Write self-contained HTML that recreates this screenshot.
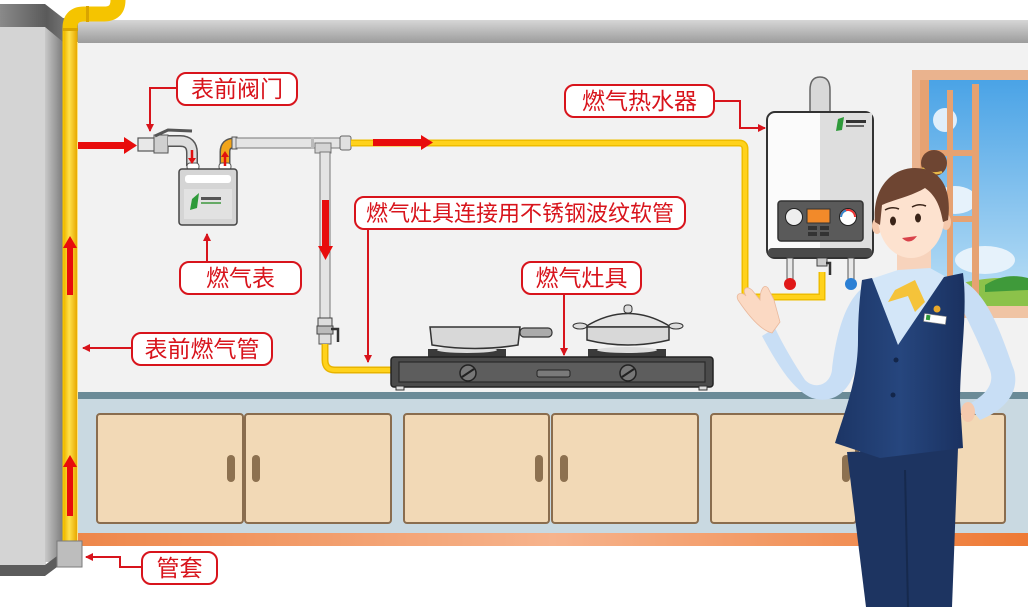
<!DOCTYPE html>
<html><head><meta charset="utf-8">
<style>
html,body{margin:0;padding:0;background:#fff;}
svg{display:block;}
text{font-family:"Liberation Sans","Noto Sans CJK SC",sans-serif;fill:#d8141c;}
</style></head>
<body>
<svg width="1028" height="607" viewBox="0 0 1028 607" xmlns="http://www.w3.org/2000/svg">
<defs>
<linearGradient id="ceil" x1="0" y1="0" x2="0" y2="1"><stop offset="0" stop-color="#d6d6d6"/><stop offset="1" stop-color="#9c9c9c"/></linearGradient>
<linearGradient id="colTop" x1="0" y1="0" x2="1" y2="0"><stop offset="0" stop-color="#8a8a8a"/><stop offset="0.6" stop-color="#5a5a5a"/><stop offset="1" stop-color="#888"/></linearGradient>
<linearGradient id="colSide" x1="0" y1="0" x2="1" y2="0"><stop offset="0" stop-color="#c8c8c8"/><stop offset="1" stop-color="#7c7c7c"/></linearGradient>
<linearGradient id="pipeY" x1="0" y1="0" x2="1" y2="0"><stop offset="0" stop-color="#f0b800"/><stop offset="0.4" stop-color="#ffe14a"/><stop offset="1" stop-color="#e8a800"/></linearGradient>
<linearGradient id="orange" x1="0" y1="0" x2="1" y2="0"><stop offset="0" stop-color="#ee874a"/><stop offset="0.5" stop-color="#f6b38c"/><stop offset="1" stop-color="#ee7a35"/></linearGradient>
<linearGradient id="sky" x1="0" y1="0" x2="0" y2="1"><stop offset="0" stop-color="#4aa3e6"/><stop offset="1" stop-color="#bfe1f6"/></linearGradient>
<linearGradient id="vest" x1="0" y1="0" x2="1" y2="0"><stop offset="0" stop-color="#1c3565"/><stop offset="0.5" stop-color="#26467e"/><stop offset="1" stop-color="#1a3160"/></linearGradient>
<marker id="ah" markerWidth="8" markerHeight="8" refX="7" refY="4" orient="auto" markerUnits="userSpaceOnUse"><path d="M0,0 L8,4 L0,8 Z" fill="#d8141c"/></marker>
</defs>

<rect width="1028" height="607" fill="#fff"/>
<!-- wall -->
<rect x="78" y="42" width="950" height="352" fill="#f2f2f2"/>
<rect x="78" y="20" width="950" height="23" fill="url(#ceil)"/>

<!-- counter area -->
<rect x="78" y="392" width="950" height="7" fill="#6b8b97"/>
<rect x="78" y="399" width="950" height="135" fill="#c9d9e1"/>
<rect x="78" y="533" width="950" height="13" fill="url(#orange)"/>

<!-- cabinets -->
<g fill="#f2d9b6" stroke="#8a6d4e" stroke-width="2">
<rect x="97" y="414" width="146" height="109" rx="3"/>
<rect x="245" y="414" width="146" height="109" rx="3"/>
<rect x="404" y="414" width="145" height="109" rx="3"/>
<rect x="552" y="414" width="146" height="109" rx="3"/>
<rect x="711" y="414" width="145" height="109" rx="3"/>
<rect x="858" y="414" width="147" height="109" rx="3"/>
</g>
<g fill="#8d7150">
<rect x="227" y="455" width="8" height="27" rx="4"/><rect x="252" y="455" width="8" height="27" rx="4"/>
<rect x="535" y="455" width="8" height="27" rx="4"/><rect x="560" y="455" width="8" height="27" rx="4"/>
<rect x="842" y="455" width="8" height="27" rx="4"/>
</g>

<!-- left column -->
<rect x="0" y="27" width="46" height="540" fill="#d4d4d4"/>
<rect x="45" y="27" width="18" height="535" fill="url(#colSide)"/>
<polygon points="0,4 45,4 63,18 78,20 78,42 63,42 45,27 0,27" fill="url(#colTop)"/>
<polygon points="0,565 45,565 57,556 63,556 57,567 45,576 0,576" fill="#5c5c5c"/>

<!-- yellow main riser pipe -->
<path d="M70,545 V28 Q70,14 84,14 H104 Q118,14 118,0" fill="none" stroke="#f5c400" stroke-width="15"/>
<rect x="64" y="30" width="13" height="515" fill="url(#pipeY)"/>
<rect x="63" y="28" width="15" height="3" fill="#d9a400"/>
<rect x="86" y="6" width="3" height="16" fill="#d9a400"/>
<!-- sleeve -->
<rect x="57" y="541" width="25" height="26" fill="#bdbdbd" stroke="#7a7a7a" stroke-width="1"/>

<!-- window -->
<rect x="912" y="70" width="116" height="248" fill="#eab38e"/>
<rect x="928" y="80" width="100" height="230" fill="url(#sky)"/>
<ellipse cx="955" cy="200" rx="22" ry="14" fill="#e6f2fb"/>
<ellipse cx="985" cy="260" rx="30" ry="14" fill="#e6f2fb"/>
<ellipse cx="945" cy="120" rx="12" ry="12" fill="#e0eefa"/>
<path d="M928,295 Q980,272 1028,280 L1028,310 L928,310 Z" fill="#8cc24a"/>
<path d="M985,285 Q1005,272 1028,278 L1028,290 L985,292 Z" fill="#3f9a3a"/>
<g fill="#e6a272">
<rect x="920" y="80" width="9" height="230"/>
<rect x="972" y="84" width="7" height="222"/>
<rect x="947" y="90" width="6" height="215"/>
<rect x="920" y="150" width="58" height="6"/>
<rect x="920" y="216" width="58" height="6"/>
</g>
<rect x="912" y="306" width="116" height="12" fill="#f0c4a4"/>

<!-- meter valve -->
<rect x="138" y="138" width="30" height="13" fill="#e8e8e8" stroke="#555" stroke-width="1.2"/>
<rect x="154" y="135" width="14" height="18" fill="#cfcfcf" stroke="#555" stroke-width="1"/>
<path d="M155,136 L168,130 L192,131" fill="none" stroke="#555" stroke-width="3"/>
<path d="M168,141 H180 Q192,141 192,153 V166" fill="none" stroke="#555" stroke-width="12"/>
<path d="M168,141 H180 Q192,141 192,153 V166" fill="none" stroke="#dedede" stroke-width="9"/>
<!-- meter outlet -->
<path d="M225,166 V152 Q225,143 234,143" fill="none" stroke="#555" stroke-width="11"/>
<path d="M225,166 V152 Q225,143 234,143" fill="none" stroke="#f2a51a" stroke-width="8"/>
<rect x="232" y="137" width="5" height="12" fill="#ddd" stroke="#555" stroke-width="1"/>
<!-- meter -->
<rect x="187" y="163" width="12" height="7" rx="3" fill="#fff" stroke="#555"/>
<rect x="219" y="163" width="12" height="7" rx="3" fill="#fff" stroke="#555"/>
<rect x="179" y="169" width="58" height="56" rx="3" fill="#d5d5d5" stroke="#444" stroke-width="1.5"/>
<rect x="185" y="175" width="46" height="8" rx="3" fill="#fff"/>
<rect x="184" y="189" width="48" height="30" fill="#e2e2e2"/>
<polygon points="192,199 199,193 197,208 190,210" fill="#2e9a3a"/>
<rect x="201" y="197" width="20" height="3" fill="#555"/>
<rect x="201" y="202" width="20" height="2" fill="#6a6"/>
<!-- small flow arrows at meter -->
<path d="M192,150 V160" stroke="#e01010" stroke-width="2.5"/>
<path d="M188,158 L192,164 L196,158 Z" fill="#e01010"/>
<path d="M225,166 V155" stroke="#e01010" stroke-width="2.5"/>
<path d="M221,157 L225,151 L229,157 Z" fill="#e01010"/>

<!-- gray distribution pipe -->
<rect x="236" y="138" width="106" height="10" fill="#e4e4e4" stroke="#777" stroke-width="1"/>
<rect x="311" y="137" width="3" height="12" fill="#bbb"/>
<rect x="315" y="143" width="16" height="10" fill="#d4d4d4" stroke="#777" stroke-width="1"/>
<rect x="340" y="136" width="11" height="14" rx="2" fill="#e0e0e0" stroke="#666" stroke-width="1"/>
<rect x="320" y="152" width="10" height="166" fill="#e4e4e4" stroke="#777" stroke-width="1"/>
<!-- lower valve -->
<rect x="318" y="318" width="14" height="8" fill="#ddd" stroke="#444"/>
<rect x="317" y="326" width="16" height="8" fill="#bbb" stroke="#444"/>
<path d="M331,329 H338 V342" stroke="#333" stroke-width="2.5" fill="none"/>
<rect x="319" y="334" width="12" height="10" fill="#ddd" stroke="#555"/>
<!-- yellow hose to stove -->
<path d="M325,344 V360 Q325,370 335,370 H393" fill="none" stroke="#e8b400" stroke-width="7"/>
<path d="M325,344 V360 Q325,370 335,370 H393" fill="none" stroke="#ffd21c" stroke-width="4"/>

<!-- yellow pipe to heater -->
<path d="M351,143 H739 Q745,143 745,149 V297 H822 V272" fill="none" stroke="#efbd00" stroke-width="7"/>
<path d="M351,143 H739 Q745,143 745,149 V297 H822 V272" fill="none" stroke="#ffd21c" stroke-width="4"/>

<!-- red flow arrows -->
<g fill="#e80c0c">
<rect x="78" y="142" width="48" height="7"/>
<polygon points="124,137 137,145.5 124,154"/>
<rect x="67" y="247" width="6" height="48"/>
<polygon points="63,248 70,236 77,248"/>
<rect x="67" y="466" width="6" height="50"/>
<polygon points="63,467 70,455 77,467"/>
<rect x="322" y="200" width="7" height="48"/>
<polygon points="318,246 325.5,260 333,246"/>
<rect x="373" y="139" width="50" height="7"/>
<polygon points="421,135 433,142.5 421,150"/>
</g>

<!-- stove -->
<rect x="428" y="349" width="78" height="9" fill="#3a3a3a"/>
<rect x="588" y="349" width="78" height="9" fill="#3a3a3a"/>
<ellipse cx="467" cy="350" rx="30" ry="3" fill="#dcdcdc"/>
<ellipse cx="627" cy="350" rx="30" ry="3" fill="#dcdcdc"/>
<!-- pan -->
<path d="M430,327 H520 L518,345 Q475,352 432,345 Z" fill="#d8d8d8" stroke="#333" stroke-width="1.5"/>
<rect x="520" y="328" width="32" height="9" rx="4" fill="#aaa" stroke="#333" stroke-width="1.2"/>
<!-- pot -->
<rect x="624" y="305" width="8" height="8" rx="3" fill="#ddd" stroke="#333"/>
<path d="M585,327 Q628,300 671,327 Z" fill="#e4e4e4" stroke="#333" stroke-width="1.5"/>
<ellipse cx="580" cy="326" rx="7" ry="3" fill="#ddd" stroke="#333"/>
<ellipse cx="676" cy="326" rx="7" ry="3" fill="#ddd" stroke="#333"/>
<path d="M587,327 H669 V340 Q628,350 587,340 Z" fill="#d8d8d8" stroke="#333" stroke-width="1.5"/>
<!-- stove body -->
<rect x="391" y="357" width="322" height="30" rx="3" fill="#4b4b4b" stroke="#222" stroke-width="1.5"/>
<rect x="399" y="362" width="306" height="20" fill="#5d5d5d" stroke="#2a2a2a" stroke-width="1.2"/>
<circle cx="468" cy="373" r="8" fill="#777" stroke="#222" stroke-width="1.5"/>
<path d="M462,377 L474,369" stroke="#222" stroke-width="2"/>
<circle cx="628" cy="373" r="8" fill="#777" stroke="#222" stroke-width="1.5"/>
<path d="M622,377 L634,369" stroke="#222" stroke-width="2"/>
<rect x="537" y="370" width="33" height="7" rx="2" fill="#7a7a7a" stroke="#222"/>
<rect x="396" y="386" width="8" height="4" fill="#ddd" stroke="#333"/>
<rect x="699" y="386" width="8" height="4" fill="#ddd" stroke="#333"/>

<!-- water heater -->
<path d="M810,112 V90 Q810,77 820,77 Q830,77 830,90 V112" fill="#d8d8d8" stroke="#666" stroke-width="1.5"/>
<rect x="767" y="112" width="106" height="146" rx="8" fill="#fbfbfb" stroke="#333" stroke-width="2"/>
<rect x="820" y="113" width="52" height="140" fill="#dedede"/>
<rect x="768" y="248" width="104" height="9" rx="4" fill="#4a4a4a"/>
<polygon points="838,119 844,117 842,130 836,131" fill="#2e9a3a"/>
<rect x="846" y="120" width="20" height="3" fill="#333"/>
<rect x="846" y="125" width="18" height="2" fill="#666"/>
<rect x="778" y="201" width="85" height="40" rx="3" fill="#5a5a5a" stroke="#333" stroke-width="1.5"/>
<circle cx="794" cy="217" r="8.5" fill="#eee" stroke="#222"/>
<rect x="807" y="209" width="23" height="14" fill="#f28a2a" stroke="#333"/>
<circle cx="848" cy="217" r="8.5" fill="#fff" stroke="#222"/>
<path d="M841,217 A7,7 0 0 1 855,217" fill="none" stroke="#e33" stroke-width="2"/>
<path d="M841,217 A7,7 0 0 1 846,210.5" fill="none" stroke="#38c" stroke-width="2"/>
<g fill="#333"><rect x="808" y="226" width="9" height="4"/><rect x="820" y="226" width="9" height="4"/><rect x="808" y="232" width="9" height="4"/><rect x="820" y="232" width="9" height="4"/></g>
<rect x="787" y="258" width="6" height="22" fill="#e8e8e8" stroke="#555"/>
<rect x="848" y="258" width="6" height="22" fill="#e8e8e8" stroke="#555"/>
<rect x="817" y="258" width="10" height="8" fill="#ccc" stroke="#444"/>
<path d="M826,263 H830 V275" stroke="#333" stroke-width="2.5" fill="none"/>
<circle cx="790" cy="284" r="6" fill="#e01818"/>
<circle cx="851" cy="284" r="6" fill="#2b7fd4"/>

<!-- woman -->
<!-- trousers -->
<path d="M847,452 L958,448 L952,607 L866,607 Z" fill="#1d3461"/>
<path d="M905,470 L908,607" stroke="#16294d" stroke-width="2"/>
<!-- right arm (viewer right) -->
<path d="M952,276 C985,285 1000,330 1014,370 C1020,392 1005,410 980,420 L968,405 C985,395 995,385 990,370 C980,345 968,320 960,305 Z" fill="#c8def5"/>
<ellipse cx="968" cy="412" rx="7" ry="10" fill="#f5c9ad"/>
<!-- left arm -->
<path d="M868,285 C845,295 835,340 832,370 C830,385 815,390 805,380 C795,365 783,345 775,328 L762,336 C775,360 792,390 812,398 C835,405 852,390 858,360 C862,335 866,310 870,295 Z" fill="#c8def5"/>
<path d="M772,333 C760,330 748,315 738,300 C735,294 741,291 746,296 C742,289 746,285 752,290 L760,300 C760,290 764,283 768,288 L774,300 L780,322 Z" fill="#fbd9c3" stroke="#e9b89c" stroke-width="0.8"/>
<!-- neck -->
<rect x="897" y="248" width="34" height="34" fill="#f7d3bc"/>
<!-- shirt collar / V -->
<path d="M868,280 L898,270 L930,268 L948,278 L898,345 Z" fill="#d3e6f8"/>
<!-- vest -->
<path d="M862,280 L872,278 L898,345 L944,277 L963,273 C968,310 960,360 960,400 L963,448 L880,458 L835,443 C845,410 858,380 858,340 C858,315 860,295 862,280 Z" fill="url(#vest)"/>
<circle cx="896" cy="360" r="2.5" fill="#13264a"/>
<circle cx="893" cy="395" r="2.5" fill="#13264a"/>
<!-- tie -->
<path d="M895,290 L915,280 L925,302 L915,312 L908,296 L888,302 Z" fill="#f5c33a"/>
<!-- badge -->
<rect x="924" y="315" width="22" height="8" fill="#fff" stroke="#888" stroke-width="0.6" transform="rotate(8 935 319)"/>
<rect x="926" y="316" width="4" height="5" fill="#2e9a3a" transform="rotate(8 935 319)"/>
<circle cx="937" cy="309" r="3.5" fill="#e8a82a"/>
<!-- head -->
<circle cx="934" cy="163" r="13" fill="#6e4532"/>
<path d="M922,168 Q930,176 942,172" stroke="#e9b949" stroke-width="2.5" fill="none"/>
<ellipse cx="877" cy="226" rx="5" ry="8" fill="#f5c9ad"/>
<ellipse cx="946" cy="222" rx="5" ry="8" fill="#f5c9ad"/>
<ellipse cx="911" cy="218" rx="33" ry="40" fill="#fde2cf"/>
<path d="M875,222 C872,190 890,168 915,168 C942,168 952,190 948,220 L943,222 C940,205 935,195 925,188 C912,196 893,200 882,205 L880,225 Z" fill="#6e4532"/>
<ellipse cx="893" cy="221" rx="3" ry="4.5" fill="#3a2418"/>
<ellipse cx="918" cy="218" rx="3" ry="4.5" fill="#3a2418"/>
<path d="M885,210 Q892,206 899,209" stroke="#3a2418" stroke-width="1.5" fill="none"/>
<path d="M912,207 Q919,203 926,206" stroke="#3a2418" stroke-width="1.5" fill="none"/>
<path d="M902,238 Q910,246 917,236 Z" fill="#d9424a"/>

<!-- label connectors -->
<g fill="none" stroke="#d8141c" stroke-width="2">
<path d="M177,88 H150 V131" marker-end="url(#ah)"/>
<path d="M207,262 V234" marker-end="url(#ah)"/>
<path d="M132,348 H83" marker-end="url(#ah)"/>
<path d="M368,229 V362" marker-end="url(#ah)"/>
<path d="M564,294 V355" marker-end="url(#ah)"/>
<path d="M715,101 H740 V128 H765" marker-end="url(#ah)"/>
<path d="M142,567 H120 V557 H86" marker-end="url(#ah)"/>
</g>

<!-- labels -->
<g fill="#fff" stroke="#d8141c" stroke-width="2">
<rect x="177" y="73" width="120" height="32" rx="9"/>
<rect x="180" y="262" width="121" height="32" rx="9"/>
<rect x="132" y="333" width="140" height="32" rx="9"/>
<rect x="355" y="197" width="330" height="32" rx="9"/>
<rect x="522" y="262" width="119" height="32" rx="9"/>
<rect x="565" y="85" width="149" height="32" rx="9"/>
<rect x="142" y="552" width="75" height="32" rx="9"/>
</g>
<g font-size="23" text-anchor="middle">
<text x="237" y="97">表前阀门</text>
<text x="240.5" y="286">燃气表</text>
<text x="202" y="357">表前燃气管</text>
<text x="520" y="221" font-size="22">燃气灶具连接用不锈钢波纹软管</text>
<text x="581.5" y="286">燃气灶具</text>
<text x="639.5" y="109">燃气热水器</text>
<text x="179.5" y="576">管套</text>
</g>
</svg>
</body></html>
